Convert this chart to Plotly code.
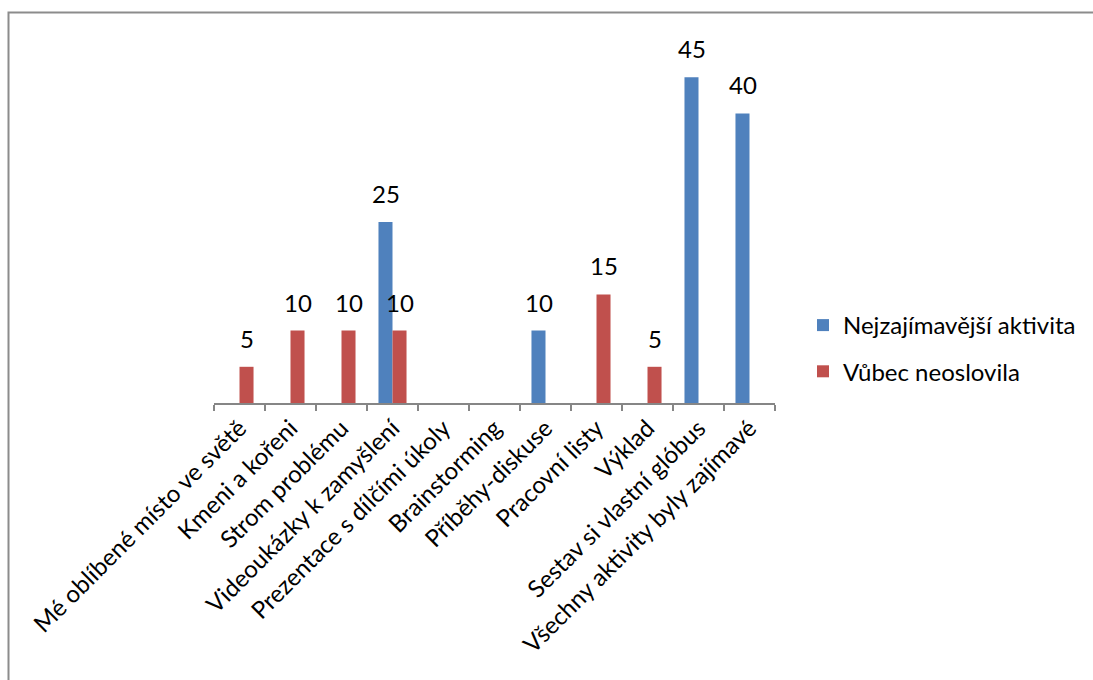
import plotly.graph_objects as go

categories = [
    "Mé oblíbené místo ve světě",
    "Kmeni a kořeni",
    "Strom problému",
    "Videoukázky k zamyšlení",
    "Prezentace s dílčími úkoly",
    "Brainstorming",
    "Příběhy-diskuse",
    "Pracovní listy",
    "Výklad",
    "Sestav si vlastní glóbus",
    "Všechny aktivity byly zajímavé",
]
series_names = ["Nejzajímavější aktivita", "Vůbec neoslovila"]
nejzajimavejsi = [0, 0, 0, 25, 0, 0, 10, 0, 0, 45, 40]
neoslovila = [5, 10, 10, 10, 0, 0, 0, 15, 5, 0, 0]

colors = ["#4F81BD", "#C0504D"]
FONT = "Lato"
FS = 24
W, H = 1093, 680
ML, MR, MT, MB = 214, 318, 41, 277
pw, ph = W - ML - MR, H - MT - MB

fig = go.Figure()
for i, (name, vals, col) in enumerate(zip(series_names, [nejzajimavejsi, neoslovila], colors)):
    fig.add_trace(go.Bar(x=categories, y=vals, name=name, marker_color=col,
                         marker_line_width=0, legendgroup=f"g{i}"))

annotations = []
for vals, shift in [(nejzajimavejsi, -7), (neoslovila, 7)]:
    for c, v in zip(categories, vals):
        if v:
            annotations.append(dict(x=c, y=v, text=str(v), showarrow=False,
                                    xref="x", yref="y", xshift=shift, yshift=12,
                                    yanchor="bottom",
                                    font=dict(family=FONT, size=FS, color="#000")))

def px(x):
    return (x - ML) / pw

def py(y):
    return (H - MB - y) / ph

fig.add_shape(type="path",
              path=f"M {px(8.5)} {py(720)} L {px(8.5)} {py(12.5)} L {px(1100)} {py(12.5)}",
              xref="paper", yref="paper", line=dict(color="#8C8C8C", width=2))

fig.update_layout(
    width=W, height=H,
    margin=dict(l=ML, r=MR, t=MT, b=MB),
    paper_bgcolor="white", plot_bgcolor="white",
    barmode="group", bargap=0.45, bargroupgap=0,
    font=dict(family=FONT, size=FS, color="#000"),
    annotations=annotations,
    legend=dict(x=px(803), y=py(303), xanchor="left", yanchor="top",
                font=dict(family=FONT, size=FS, color="#000"),
                tracegroupgap=12,
                bgcolor="rgba(0,0,0,0)"),
    showlegend=True,
)
fig.update_xaxes(showline=True, linecolor="#868686", linewidth=1.5,
                 ticks="outside", tickson="boundaries", ticklen=6,
                 tickcolor="#868686", tickwidth=1.5, tickangle=-45,
                 tickfont=dict(family=FONT, size=FS, color="#000"),
                 showgrid=False)
fig.update_yaxes(range=[0, 50], visible=False, showgrid=False)

fig.write_html("out.html")
